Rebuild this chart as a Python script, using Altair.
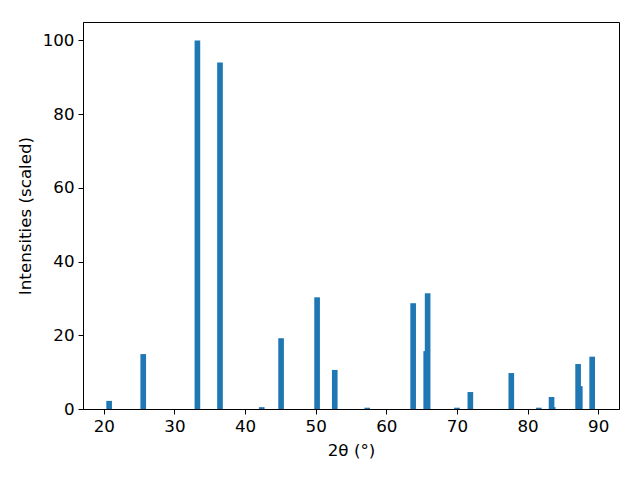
import altair as alt
import pandas as pd

two_theta = [20.75, 25.58, 33.25, 36.45, 42.36, 45.1, 50.2, 52.7, 57.3, 63.8,
             65.65, 65.85, 70.0, 71.9, 77.7, 81.6, 83.4, 83.56, 87.16, 87.4, 89.15]
intensity = [2.2, 14.9, 100.0, 94.0, 0.5, 19.2, 30.3, 10.6, 0.35, 28.7,
             15.7, 31.4, 0.35, 4.6, 9.75, 0.35, 3.25, 0.5, 12.2, 6.2, 14.2]

df = pd.DataFrame({"two_theta": two_theta, "intensity": intensity})

font = "DejaVu Sans"

chart = alt.Chart(df).transform_calculate(
    x0="datum.two_theta - 0.4", x1="datum.two_theta + 0.4"
).mark_bar(color="#1f77b4", binSpacing=0).encode(
    x=alt.X("x0:Q", scale=alt.Scale(domain=[17.05, 92.95], nice=False, zero=False, padding=0),
            axis=alt.Axis(title="2θ (°)", values=[20, 30, 40, 50, 60, 70, 80, 90])),
    x2="x1:Q",
    y=alt.Y("intensity:Q", scale=alt.Scale(domain=[0, 105], nice=False, padding=0),
            axis=alt.Axis(title="Intensities (scaled)", values=[0, 20, 40, 60, 80, 100])),
    y2=alt.datum(0),
).properties(
    width=536, height=387,
    autosize=alt.AutoSizeParams(type="none"),
    padding={"left": 75, "top": 14, "right": 13, "bottom": 63},
).configure_view(
    stroke="black", strokeWidth=1
).configure_axis(
    grid=False, domainColor="black", tickColor="black", labelColor="black",
    titleColor="black", labelFont=font, titleFont=font, labelFontSize=16.7,
    titleFontSize=16.7, titleFontWeight="normal", tickSize=5, labelPadding=4,
    titlePadding=8, domainWidth=1, tickWidth=1
)

chart.save("out.html", embed_options={"renderer": "svg", "actions": False})
